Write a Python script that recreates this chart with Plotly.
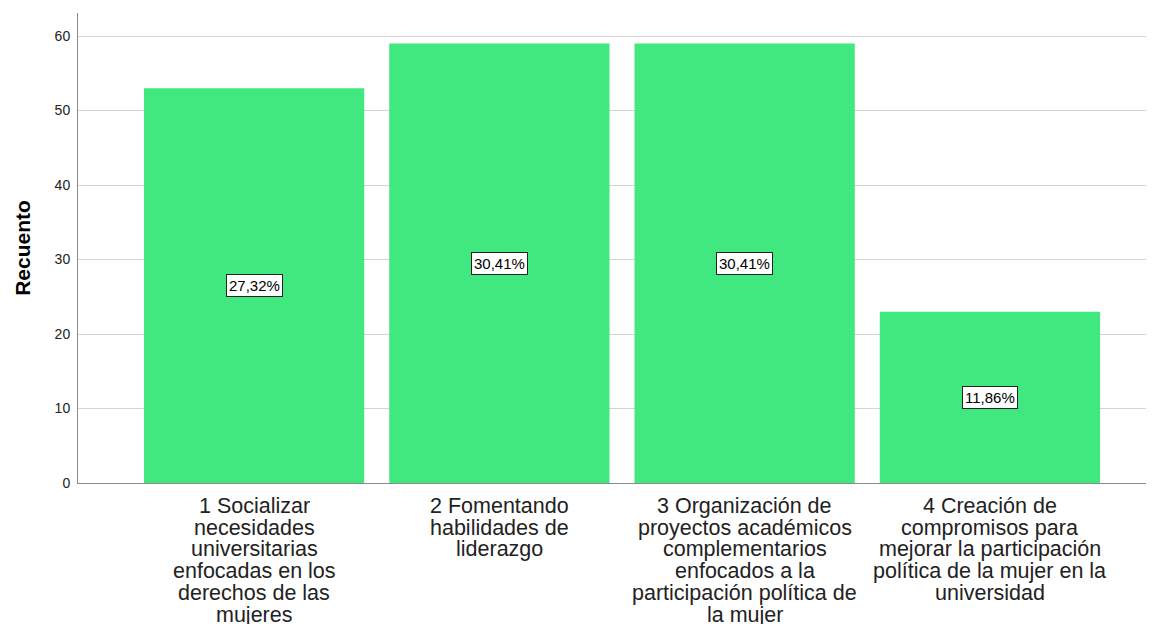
import plotly.graph_objects as go

category_lines = [
    ["1 Socializar", "necesidades", "universitarias", "enfocadas en los", "derechos de las", "mujeres"],
    ["2 Fomentando", "habilidades de", "liderazgo"],
    ["3 Organización de", "proyectos académicos", "complementarios", "enfocados a la",
     "participación política de", "la mujer"],
    ["4 Creación de", "compromisos para", "mejorar la participación",
     "política de la mujer en la", "universidad"],
]
counts = [53, 59, 59, 23]
pct_labels = ["27,32%", "30,41%", "30,41%", "11,86%"]
y_ticks = [0, 10, 20, 30, 40, 50, 60]

FONT = "Liberation Sans, Arial"
xs = list(range(len(counts)))
fig = go.Figure()
fig.add_trace(go.Bar(x=xs, y=counts, marker=dict(color="#41e77f", line=dict(width=0)),
                     width=0.898, hoverinfo="skip"))

for x, c, t in zip(xs, counts, pct_labels):
    fig.add_annotation(x=x, y=c / 2, text=t, showarrow=False,
                       font=dict(family=FONT, size=15, color="#000"),
                       bgcolor="white", bordercolor="#222", borderwidth=1, borderpad=2)

LINE_H = 21.7
for x, lines in zip(xs, category_lines):
    for k, line in enumerate(lines):
        fig.add_annotation(x=x, xref="x", y=0, yref="paper", yanchor="top",
                           yshift=-(9 + k * LINE_H), text=line, showarrow=False,
                           font=dict(family=FONT, size=21.5, color="#222"))

# page body has an 8px margin; figure sized so the plot area lands where the reference has it
fig.update_layout(
    width=1146, height=616,
    margin=dict(l=70, r=0, t=5, b=141),
    plot_bgcolor="white", paper_bgcolor="white",
    showlegend=False,
    font=dict(family=FONT, color="#222"),
    xaxis=dict(range=[-0.718, 3.669], showticklabels=False, automargin=False,
               showgrid=False, zeroline=False, showline=True, linecolor="#8a8a8a",
               linewidth=1, ticks=""),
    yaxis=dict(range=[0, 63.1], tickmode="array", tickvals=y_ticks, showgrid=True,
               automargin=False, ticklabelstandoff=4,
               gridcolor="#d4d4d4", gridwidth=1, zeroline=False, showline=True,
               linecolor="#8a8a8a", linewidth=1, ticks="",
               tickfont=dict(family=FONT, size=14, color="#222"),
               title=dict(text="<b>Recuento</b>", font=dict(family=FONT, size=21, color="#000"),
                          standoff=18)),
)
fig.write_html("out.html")
